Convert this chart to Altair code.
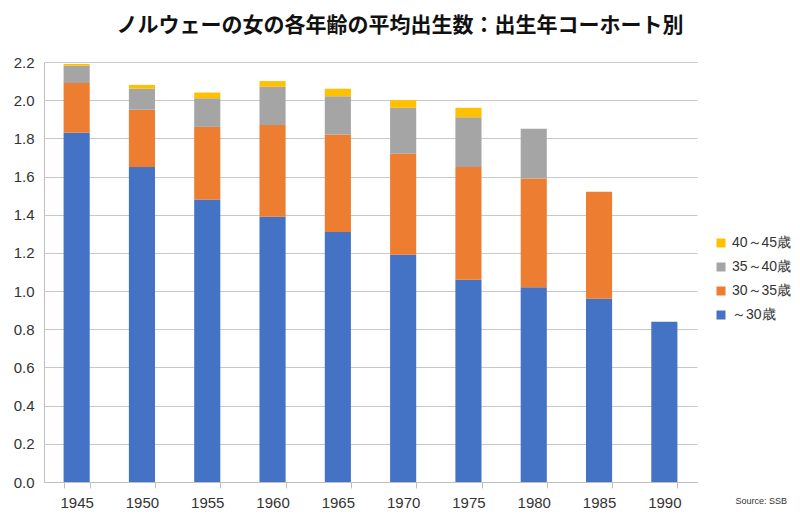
import altair as alt
import pandas as pd

years = ["1945", "1950", "1955", "1960", "1965", "1970", "1975", "1980", "1985", "1990"]
series_names = ["～30歳", "30～35歳", "35～40歳", "40～45歳"]
under30 = [1.83, 1.65, 1.48, 1.39, 1.31, 1.19, 1.06, 1.02, 0.96, 0.84]
age30_35 = [0.26, 0.30, 0.38, 0.48, 0.51, 0.53, 0.59, 0.57, 0.56, None]
age35_40 = [0.09, 0.11, 0.15, 0.20, 0.20, 0.24, 0.26, 0.26, None, None]
age40_45 = [0.01, 0.02, 0.03, 0.03, 0.04, 0.04, 0.05, None, None, None]
colors = ["#4472C4", "#ED7D31", "#A5A5A5", "#FFC000"]
y_ticks = [0.0, 0.2, 0.4, 0.6, 0.8, 1.0, 1.2, 1.4, 1.6, 1.8, 2.0, 2.2]
title_text = "ノルウェーの女の各年齢の平均出生数：出生年コーホート別"
source_text = "Source: SSB"

rows = []
for idx, (name, vals) in enumerate(zip(series_names, [under30, age30_35, age35_40, age40_45])):
    for yr, v in zip(years, vals):
        if v is not None:
            rows.append({"year": yr, "group": name, "value": v, "idx": idx})
df = pd.DataFrame(rows)

FONT = "Liberation Sans Narrow, Liberation Sans, sans-serif"

bars = alt.Chart(df).mark_bar().encode(
    x=alt.X("year:N", sort=years,
            scale=alt.Scale(paddingInner=0.6, paddingOuter=0.3),
            axis=alt.Axis(title=None,
                          labelAngle=0, labelFontSize=15, labelFont=FONT, labelColor="#333333",
                          labelPadding=7, tickBand="extent", ticks=True, tickSize=6,
                          tickColor="#bfbfbf", domainColor="#bfbfbf", grid=False)),
    y=alt.Y("value:Q", stack="zero",
            scale=alt.Scale(domain=[0, 2.2], nice=False),
            axis=alt.Axis(title=None, values=y_ticks, format=".1f", labelFontSize=15,
                          labelFont=FONT, labelColor="#333333", labelPadding=10,
                          ticks=False, domain=True, domainColor="#bfbfbf",
                          gridColor="#c8c8c8", gridWidth=1)),
    color=alt.Color("group:N",
                    scale=alt.Scale(domain=series_names[::-1], range=colors[::-1]),
                    legend=alt.Legend(title=None, orient="none", legendX=670, legendY=174,
                                      symbolType="square", symbolSize=81, symbolStrokeWidth=0,
                                      labelFontSize=14, labelFont=FONT, labelColor="#333333",
                                      rowPadding=10, padding=0)),
    order=alt.Order("idx:Q", sort="ascending"),
)

title = alt.Chart(pd.DataFrame({"t": [title_text]})).mark_text(
    font="Noto Sans CJK JP", fontSize=21, fontWeight="bold", color="#111111",
    align="center", baseline="middle"
).encode(text="t:N", x=alt.value(356), y=alt.value(-36))

source = alt.Chart(pd.DataFrame({"t": [source_text]})).mark_text(
    font=FONT, fontSize=9, color="#333333", align="right", baseline="bottom"
).encode(text="t:N", x=alt.value(743), y=alt.value(444))

chart = alt.layer(bars, title, source).properties(
    width=653,
    height=420,
    autosize=alt.AutoSizeParams(type="none"),
    padding={"left": 36, "top": 54, "right": 95, "bottom": 33},
).configure_view(stroke=None)

chart.save("out.html", embed_options={"renderer": "svg", "actions": False})
